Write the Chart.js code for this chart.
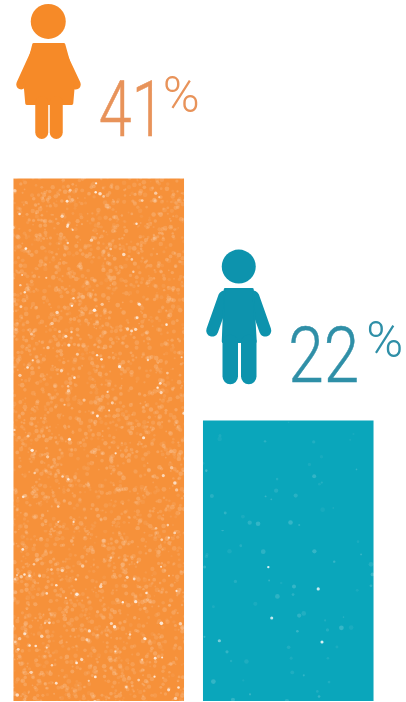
<!DOCTYPE html>
<html>
<head>
<meta charset="utf-8">
<script src="https://cdn.jsdelivr.net/npm/chart.js@4"></script>
<style>
  html, body { margin: 0; padding: 0; background: #fff; }
  canvas { display: block; }
</style>
</head>
<body>
<canvas id="chart" width="406" height="702"></canvas>
<script>
const categories = ["Women", "Men"];
const percentages = [41, 22];
const barColors = ["#f6913a", "#0aa6bb"];
const iconColors = ["#f68a28", "#0d93ad"];
const textColors = ["#e8935a", "#2f8fa7"];
const speckleCounts = [3600, 170];

/* speckled fill for the bars, texture only (not data) */
function speckle(base, count, seed) {
  const c = document.createElement("canvas");
  c.width = 190;
  c.height = 530;
  const g = c.getContext("2d");
  g.fillStyle = base;
  g.fillRect(0, 0, c.width, c.height);
  g.filter = "blur(0.7px)";
  let s = seed;
  const next = () => (s = (s * 16807) % 2147483647) / 2147483647;
  for (let i = 0; i < count; i++) {
    const big = next() > 0.95;
    g.fillStyle = "rgba(255,255,255," + (big ? 0.45 + next() * 0.4 : 0.05 + next() * 0.14) + ")";
    g.beginPath();
    g.arc(next() * c.width, next() * c.height, big ? 1 + next() * 0.8 : 0.8 + next() * 1.6, 0, Math.PI * 2);
    g.fill();
  }
  return g.createPattern(c, "repeat");
}

/* rounded limb between two points */
function limb(ctx, x1, y1, x2, y2, width) {
  ctx.lineCap = "round";
  ctx.lineWidth = width;
  ctx.beginPath();
  ctx.moveTo(x1, y1);
  ctx.lineTo(x2, y2);
  ctx.stroke();
}

/* icon outlines, offsets from the top centre of each bar */
function womanIcon(ctx) {
  ctx.beginPath();
  ctx.arc(-50.5, -157, 17.5, 0, Math.PI * 2);
  ctx.fill();
  limb(ctx, -62, -128, -77.5, -94, 10);
  limb(ctx, -39, -128, -23, -94, 10);
  const p = new Path2D();
  p.moveTo(-65, -134);
  p.lineTo(-35, -134);
  p.lineTo(-25, -98);
  p.lineTo(-27, -75);
  p.lineTo(-72, -75);
  p.lineTo(-74, -98);
  p.closePath();
  ctx.lineWidth = 3;
  ctx.lineJoin = "round";
  ctx.stroke(p);
  ctx.fill(p);
  limb(ctx, -57, -76, -57, -46, 13);
  limb(ctx, -42.5, -76, -42.5, -46, 13);
}

function manIcon(ctx) {
  ctx.beginPath();
  ctx.arc(-49.5, -154, 17, 0, Math.PI * 2);
  ctx.fill();
  limb(ctx, -64, -124, -76, -90, 12);
  limb(ctx, -35, -124, -23, -90, 12);
  const p = new Path2D();
  p.moveTo(-63, -131);
  p.lineTo(-36, -131);
  p.lineTo(-33, -79);
  p.lineTo(-65, -79);
  p.closePath();
  ctx.lineWidth = 3;
  ctx.lineJoin = "round";
  ctx.stroke(p);
  ctx.fill(p);
  limb(ctx, -58, -78, -58, -44, 15.5);
  limb(ctx, -39.5, -78, -39.5, -44, 15.5);
}

const icons = [womanIcon, manIcon];

/* icon and percent label above each bar */
const headerPlugin = {
  id: "headers",
  afterDatasetsDraw(chart) {
    const ctx = chart.ctx;
    chart.getDatasetMeta(0).data.forEach((bar, i) => {
      ctx.save();
      ctx.translate(bar.x, bar.y);
      ctx.fillStyle = iconColors[i];
      ctx.strokeStyle = iconColors[i];
      icons[i](ctx);
      ctx.restore();

      ctx.save();
      ctx.translate(bar.x, bar.y);
      ctx.fillStyle = textColors[i];
      ctx.strokeStyle = textColors[i];
      ctx.lineWidth = 0.5;
      ctx.textBaseline = "alphabetic";
      ctx.textAlign = "left";
      ctx.save();
      ctx.translate(0, i === 0 ? -42 : -39);
      ctx.scale(i === 0 ? 0.76 : 0.82, 1);
      ctx.font = "300 78px Roboto";
      ctx.fillText(String(percentages[i]), 0, 0);
      ctx.strokeText(String(percentages[i]), 0, 0);
      ctx.restore();
      ctx.font = "300 50px Roboto";
      ctx.fillText("%", i === 0 ? 64 : 78, i === 0 ? -66 : -64);
      ctx.restore();
    });
  }
};

new Chart(document.getElementById("chart"), {
  type: "bar",
  data: {
    labels: categories,
    datasets: [{
      data: percentages,
      backgroundColor: [
        speckle(barColors[0], speckleCounts[0], 4711),
        speckle(barColors[1], speckleCounts[1], 90210)
      ],
      borderWidth: 0,
      barPercentage: 0.9,
      categoryPercentage: 1
    }]
  },
  options: {
    responsive: false,
    animation: false,
    devicePixelRatio: 1,
    layout: { padding: { left: 4, right: 23, top: 0, bottom: 1 } },
    plugins: {
      legend: { display: false },
      title: { display: false },
      tooltip: { enabled: false }
    },
    scales: {
      x: { display: false },
      y: { display: false, min: 0, max: 55 }
    }
  },
  plugins: [headerPlugin]
});
</script>
</body>
</html>
